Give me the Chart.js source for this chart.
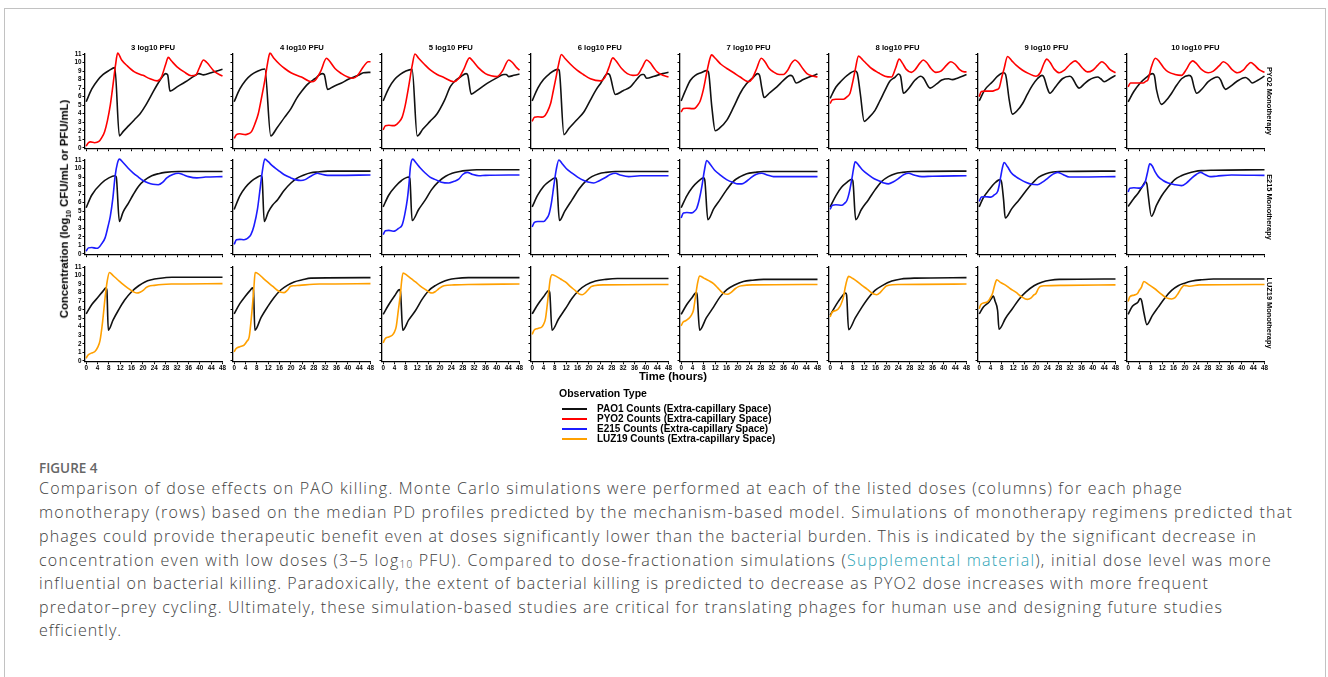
<!DOCTYPE html>
<html>
<head>
<meta charset="utf-8">
<script src="https://cdn.jsdelivr.net/npm/chart.js@4.4.1/dist/chart.umd.min.js"></script>
<style>
  body { margin: 0; background: #fff; width: 1328px; height: 677px; overflow: hidden; position: relative;
         font-family: "Liberation Sans", Arial, sans-serif; }
  .frame { position: absolute; left: 4px; top: 8px; width: 1320px; height: 700px;
           border: 1.5px solid #c2c2c2; border-bottom: none; }
  .panel { position: absolute; }
  .lbl { position: absolute; font-weight: bold; white-space: nowrap; color: #000; transform: translate(-50%, -50%); }
  .rot-l { transform: translate(-50%, -50%) rotate(-90deg); }
  .rot-r { transform: translate(-50%, -50%) rotate(90deg); }
  .leg { position: absolute; font-weight: bold; white-space: nowrap; color: #000; font-size: 10px; line-height: 10px; }
  .swatch { position: absolute; height: 2px; width: 25px; }
  #caption { position: absolute; left: 39px; top: 0; width: 1500px; height: 677px; }
  .cap { position: absolute; left: 0; display: block; white-space: pre; font-family: "Open Sans", sans-serif;
         font-weight: 300; font-size: 16px; line-height: 20px; color: #3e3e3e; }
  .cap sub { font-size: 10px; vertical-align: -2px; line-height: 0; }
  .cap a { color: #2aa3b5; text-decoration: none; }
  .fig { position: absolute; left: 0; top: 460px; white-space: pre; font-family: "Open Sans", sans-serif; font-weight: 600;
         font-size: 13.5px; line-height: 16px; color: #666; }
</style>
</head>
<body>
<div class="frame"></div>
<div id="caption"></div>
<script>
// ---- chart data (hours, log10 CFU/mL or PFU/mL) ----
const doses = ['3 log10 PFU', '4 log10 PFU', '5 log10 PFU', '6 log10 PFU',
               '7 log10 PFU', '8 log10 PFU', '9 log10 PFU', '10 log10 PFU'];
const rowLabels = ['PYO2 Monotherapy', 'E215 Monotherapy', 'LUZ19 Monotherapy'];
const hourTicks = [0, 4, 8, 12, 16, 20, 24, 28, 32, 36, 40, 44, 48];
const concTicks = [0, 1, 2, 3, 4, 5, 6, 7, 8, 9, 10, 11];
const legendLabels = ['PAO1 Counts (Extra-capillary Space)', 'PYO2 Counts (Extra-capillary Space)',
                      'E215 Counts (Extra-capillary Space)', 'LUZ19 Counts (Extra-capillary Space)'];

// PAO1 with PYO2, one curve per dose
const PAO1_PYO2 = [
  [[0,5.4],[2,6.9],[4,7.9],[6,8.6],[8,9.05],[10.1,9.4],[11.7,1.4],[13,1.9],[15,2.6],[17,3.3],[19,4.0],[21,5.0],[23,6.2],[25,7.4],[27,8.4],[28,8.7],[28.7,8.55],[29.5,6.65],[32,7.15],[35,7.75],[38,8.4],[39.7,8.7],[41.3,8.55],[44,8.8],[48,9.2]],
  [[0,5.4],[2,6.9],[4,7.9],[6,8.55],[8,8.95],[10.8,9.25],[12.9,1.4],[15,2.3],[17.8,3.6],[20,4.6],[22,5.8],[23.7,6.6],[26,7.5],[28.4,8.1],[31,8.7],[31.7,8.6],[32.9,6.85],[35,7.2],[37.8,7.6],[40,8.0],[43.7,8.5],[45.5,8.8],[48,8.85]],
  [[0,5.5],[2,7.0],[4,8.0],[6,8.6],[8,9.0],[10.2,9.2],[12,1.4],[14,2.2],[16.5,3.1],[19,4.0],[21.5,5.5],[23.7,7.2],[25.5,7.9],[27.2,8.3],[29.2,8.7],[29.8,8.5],[31,6.3],[33,6.7],[36.6,7.55],[40,8.2],[42.5,8.6],[43.3,8.6],[44.2,8.35],[46,8.5],[48,8.65]],
  [[0,5.5],[2,7.0],[4,8.0],[6,8.65],[9,9.2],[9.5,9.1],[11.2,1.55],[13,2.3],[15.5,3.2],[18.2,4.2],[20.5,5.6],[22.5,6.8],[24.1,7.55],[26.6,8.7],[27.3,8.55],[29.3,6.25],[32,6.7],[34.6,7.15],[36.5,7.9],[38.7,8.6],[39.3,8.6],[40.3,8.15],[43,8.4],[46,8.7],[48,8.85]],
  [[0,5.5],[1.5,6.7],[3.2,7.9],[5,8.5],[7,8.8],[9,9.05],[9.6,8.9],[10.8,4.8],[12,2.0],[13.5,2.3],[16.1,3.25],[18.5,4.8],[20.8,6.4],[23,7.5],[25.5,8.3],[26.9,8.7],[27.6,8.5],[28.4,7.0],[29.2,5.9],[31,6.4],[33.7,7.15],[36,7.9],[38.4,8.5],[39.2,8.4],[40.5,7.6],[43,8.0],[45.5,8.35],[48,8.65]],
  [[0,5.8],[2,7.1],[4.1,7.9],[6,8.5],[8.8,9.0],[9.5,8.8],[10.6,6.4],[12,3.1],[13.5,3.5],[15.8,4.4],[17.5,5.5],[19.4,6.8],[21,7.8],[22.9,8.3],[24.1,8.65],[24.8,8.4],[25.8,6.4],[27.5,6.9],[29.9,7.95],[31.9,8.4],[32.8,8.2],[35.2,7.0],[37.5,7.5],[39.3,7.95],[41.7,8.1],[43,8.0],[45,8.2],[48,8.6]],
  [[0,5.5],[2,6.8],[4.7,7.75],[6.5,8.4],[8.6,8.8],[9.3,8.6],[10.6,5.6],[11.7,3.95],[13.5,4.4],[15.3,5.2],[17,6.3],[18.8,7.35],[20.5,8.1],[22.1,8.5],[22.8,8.3],[24,7.0],[24.9,6.4],[27,7.2],[29.3,8.1],[31.9,8.4],[32.8,8.2],[34.3,7.3],[35.2,7.0],[37,7.5],[38.7,7.95],[41.7,8.3],[42.8,8.1],[44,7.75],[46,8.1],[48,8.5]],
  [[0,5.4],[2,6.6],[4.1,7.55],[6.2,8.2],[8.5,8.7],[9.2,8.5],[10,6.8],[11.7,5.1],[13.5,5.6],[15.3,6.4],[17,7.3],[18.8,8.1],[21.4,8.5],[22.3,8.3],[23.3,7.0],[24.1,6.4],[26,6.9],[28.2,7.75],[31.5,8.3],[32.5,8.0],[33.5,7.2],[34.3,6.85],[36,7.2],[38.1,7.75],[41.3,8.25],[42.5,8.0],[43.7,7.6],[45.5,7.9],[48,8.4]]
];
const PYO2 = [
  [[0,0.2],[0.8,0.6],[1.5,0.7],[3,0.6],[4.5,0.75],[5.5,1.2],[6.5,1.9],[7.5,3.2],[8.5,5.0],[9.5,7.5],[10.3,9.6],[11.1,11.1],[12.5,10.3],[14.5,9.6],[17,8.9],[20,8.5],[22.5,8.1],[25,7.85],[26.5,8.3],[28,9.8],[28.9,10.6],[30,10.2],[32,9.5],[34.5,8.9],[37,8.45],[38.5,8.5],[40,9.5],[41.3,10.3],[42.5,10.0],[45,9.0],[48,8.4]],
  [[0,1.1],[0.8,1.55],[2,1.65],[4,1.55],[5,1.65],[6.1,1.9],[7.3,2.8],[8.5,4.0],[9.6,5.8],[10.8,7.9],[11.8,10.0],[12.6,11.1],[14,10.5],[16,9.8],[17.8,9.3],[20,8.8],[23.7,8.3],[27.2,7.75],[28.5,7.9],[30.5,9.0],[32.5,10.5],[33.5,10.2],[35.5,9.3],[37.8,8.7],[40,8.3],[41.9,8.15],[43.5,8.5],[45.5,9.5],[47.2,10.1],[48,10.1]],
  [[0,2.1],[0.8,2.6],[2,2.65],[3.5,2.6],[4.3,2.65],[5.5,3.0],[6.7,3.6],[7.8,5.0],[9,7.2],[10.2,9.6],[11.2,11.0],[12.5,10.5],[14.5,9.8],[16.7,9.1],[19,8.6],[21.4,8.25],[24.9,7.75],[26.5,8.1],[28.5,9.3],[30.4,10.55],[31.5,10.2],[33.5,9.4],[36,8.7],[38,8.45],[40.1,8.35],[42,9.0],[44.2,10.3],[45.5,10.0],[47,9.4],[48,9.1]],
  [[0,3.1],[0.8,3.6],[2,3.65],[3.5,3.6],[4.1,3.65],[5.3,4.2],[6.5,5.2],[7.4,6.6],[8.2,7.9],[9.2,9.6],[10.3,10.95],[11.5,10.5],[13.5,9.8],[15.8,9.1],[18,8.6],[20.5,8.1],[24.1,7.85],[25.5,8.2],[27,9.4],[28.4,10.55],[29.5,10.2],[31.5,9.3],[33.5,8.7],[35.5,8.5],[37,8.55],[38.7,9.4],[40.3,10.3],[41.5,10.0],[43,9.3],[44,8.9],[46,8.5],[48,8.3]],
  [[0,4.2],[0.8,4.6],[2,4.65],[4,4.6],[4.9,4.65],[5.8,5.0],[6.7,5.5],[7.8,6.8],[9,8.8],[10,10.3],[10.7,10.9],[12,10.5],[14,9.8],[16.1,9.3],[18.5,8.8],[20.8,8.3],[23.7,7.75],[25,8.1],[26.6,9.3],[28.2,10.5],[29.5,10.1],[31,9.3],[32.5,8.9],[34.5,8.6],[36,8.6],[37.5,9.1],[38.8,9.9],[40.1,10.3],[41.3,10.0],[43,9.2],[44.3,8.7],[46,8.45],[48,8.3]],
  [[0,5.2],[0.8,5.65],[2,5.7],[4.7,5.7],[6,6.0],[7,6.4],[8,7.8],[8.8,9.1],[10,10.75],[11.5,10.3],[13,9.8],[14.6,9.3],[17,8.8],[19.3,8.4],[21.6,8.3],[23,9.3],[24.3,10.4],[25.5,9.9],[26.8,9.2],[28.6,8.85],[30,9.2],[31.5,9.9],[32.8,10.3],[34,10.0],[35.5,9.3],[37.2,8.85],[39,9.0],[41,9.7],[42.5,10.1],[44,9.8],[45.5,9.2],[47.2,8.9],[48,8.9]],
  [[0,6.0],[0.8,6.6],[2,6.65],[4.7,6.65],[6,6.8],[7,7.0],[8,8.3],[8.8,9.3],[10,10.7],[11.5,10.2],[13,9.7],[15.3,9.1],[17.5,8.7],[20,8.4],[21.5,8.8],[22.7,9.8],[23.8,10.4],[25,10.0],[26.5,9.2],[28.2,8.8],[30,9.1],[32,9.8],[33.8,10.2],[35,9.9],[36.5,9.3],[38.1,8.9],[40,9.1],[41.8,9.7],[43.2,10.1],[44.5,9.8],[46,9.2],[48,8.8]],
  [[0,7.15],[0.8,7.6],[2,7.6],[5.3,7.6],[6.2,7.8],[7,8.0],[8.2,9.5],[9.6,10.5],[11,10.1],[12.5,9.4],[14.1,8.9],[16.5,8.6],[18.8,8.5],[20.5,9.2],[21.7,9.9],[22.7,10.2],[24,9.9],[25.8,9.2],[28.2,8.8],[30,9.0],[32,9.6],[33.5,10.1],[35,9.8],[36.5,9.2],[38.5,8.8],[40.5,9.1],[42,9.7],[43.2,10.0],[44.5,9.7],[46,9.2],[48,8.85]]
];

// PAO1 with E215
const PAO1_E215 = [
  [[0,5.4],[2,6.9],[5.5,8.3],[8,8.9],[10.2,9.15],[10.6,9.0],[11.7,3.8],[13,4.9],[14.9,5.95],[16.5,6.9],[18.4,7.9],[20.5,8.6],[23.1,9.15],[25.5,9.4],[27.8,9.55],[32.5,9.65],[48,9.65]],
  [[0,5.2],[2,6.8],[4,7.8],[6,8.5],[8,8.95],[9.4,9.15],[9.8,9.0],[10.6,3.8],[12,4.9],[13.5,5.7],[15.3,6.35],[17.5,7.4],[20,8.3],[22,8.85],[24.6,9.25],[27,9.5],[29.3,9.6],[33,9.7],[48,9.7]],
  [[0,5.5],[2,6.9],[4.3,7.9],[6.5,8.6],[9,9.0],[9.4,8.8],[10.2,3.9],[12.5,5.2],[14.9,6.35],[17,7.5],[19.6,8.5],[22,9.1],[24.3,9.45],[27,9.65],[29,9.75],[33,9.85],[48,9.85]],
  [[0,5.5],[2,6.9],[4,7.9],[6,8.5],[8.2,8.9],[8.6,8.7],[9.6,3.9],[11.5,5.0],[14.1,6.35],[16.5,7.6],[18.8,8.5],[21,9.05],[23.5,9.4],[26,9.55],[29.3,9.65],[48,9.65]],
  [[0,5.4],[2,6.8],[4,7.8],[6,8.5],[7.9,8.9],[8.3,8.7],[9.4,4.0],[11.5,5.3],[13.7,6.35],[16,7.5],[18.4,8.5],[20.8,9.05],[23.1,9.4],[26,9.55],[29,9.65],[48,9.65]],
  [[0,5.5],[2,6.8],[4,7.8],[6,8.4],[7.6,8.75],[8,8.55],[9,4.0],[11,5.2],[13.5,6.35],[15.8,7.5],[18.2,8.5],[20.5,9.05],[22.9,9.4],[25.5,9.55],[28.8,9.65],[48,9.7]],
  [[0,5.5],[1.5,6.6],[3.5,7.5],[5.5,8.3],[7.4,8.7],[7.9,8.4],[8.6,6.35],[9.2,4.2],[11.5,5.3],[14.1,6.35],[16.5,7.4],[18.8,8.3],[21,9.0],[23.5,9.4],[26,9.6],[28.2,9.65],[48,9.7]],
  [[0,5.55],[2,6.5],[3.5,7.1],[5,7.9],[6.1,8.45],[6.6,8.2],[7,7.1],[8.2,4.4],[10,5.7],[11.7,6.75],[14,7.8],[16.4,8.7],[18.7,9.15],[21.1,9.45],[23.5,9.65],[25.8,9.75],[30,9.8],[48,9.85]]
];
const E215 = [
  [[0,0.3],[0.8,0.7],[2,0.75],[3.5,0.65],[4.3,0.7],[5.5,1.2],[6.7,1.9],[7.7,3.2],[8.5,4.4],[9.4,6.5],[10.2,9.1],[11,10.6],[11.7,11.1],[13,10.7],[14.9,10.0],[16.5,9.5],[18.4,9.0],[20,8.6],[21.9,8.3],[23.5,8.15],[25.4,8.1],[27,8.4],[28.4,8.9],[30.5,9.3],[32.5,9.45],[34,9.3],[36,9.05],[39,8.9],[42,9.0],[48,9.05]],
  [[0,1.1],[0.8,1.65],[2,1.7],[3.5,1.65],[4.1,1.7],[5,1.9],[5.9,2.25],[7,3.3],[8.2,5.2],[9.2,7.8],[10,9.85],[10.8,11.1],[12,10.8],[13.5,10.3],[15.3,9.85],[17.5,9.3],[20,8.9],[21.5,8.7],[23.5,8.6],[25,8.7],[27,9.1],[29.3,9.45],[30.5,9.35],[32.9,9.2],[36,9.2],[48,9.25]],
  [[0,2.25],[0.8,2.7],[2,2.75],[3.5,2.65],[4.3,2.7],[5.5,3.0],[6.7,3.4],[7.6,4.6],[8.5,6.35],[9.1,8.2],[9.6,10.2],[10.4,11.1],[11.5,10.7],[13,10.1],[14.9,9.45],[16.5,9.0],[18.4,8.7],[20.5,8.4],[23.1,8.3],[25,8.5],[26.6,8.75],[28,9.3],[29.6,9.55],[31.5,9.3],[33.7,9.15],[36,9.2],[48,9.25]],
  [[0,3.15],[0.8,3.7],[2,3.8],[4.1,3.8],[5,4.1],[5.9,4.6],[6.8,6.0],[7.6,7.9],[8.5,9.9],[9.4,11.0],[10.5,10.6],[12,10.0],[14.1,9.45],[16,9.0],[18.2,8.6],[20,8.4],[21.7,8.3],[23.5,8.55],[25.8,8.95],[27.5,9.3],[29.3,9.45],[31,9.25],[34,9.05],[38,9.15],[48,9.15]],
  [[0,4.2],[0.8,4.8],[2,4.85],[3.8,4.8],[4.7,5.0],[5.5,5.35],[6.4,6.4],[7.3,7.9],[8.2,9.8],[9,10.95],[10.2,10.5],[11.8,9.8],[13.7,9.25],[16,8.7],[18.4,8.35],[20,8.2],[21.4,8.2],[22.8,8.45],[24.3,8.85],[26.3,9.3],[28.4,9.45],[30.3,9.25],[32.5,9.05],[36,9.05],[48,9.05]],
  [[0,5.2],[0.8,5.7],[2,5.75],[4.1,5.7],[5,5.9],[5.9,6.25],[6.8,7.3],[7.6,8.7],[8.2,9.9],[8.8,10.8],[10,10.4],[11.5,9.8],[13.5,9.25],[15.5,8.8],[17.6,8.5],[19,8.3],[20.5,8.2],[22.3,8.45],[24.1,8.85],[26,9.3],[27.6,9.45],[29.5,9.25],[32.3,9.05],[36,9.1],[48,9.15]],
  [[0,6.15],[0.8,6.65],[2,6.7],[4.1,6.65],[5.3,6.9],[6.5,7.3],[7.1,8.1],[7.6,9.05],[8.2,10.1],[8.8,10.7],[10,10.2],[11.3,9.5],[12.9,9.05],[14.6,8.7],[16.4,8.4],[18.5,8.15],[20.5,8.1],[22.3,8.4],[24.1,8.85],[26,9.35],[27.6,9.55],[29.5,9.3],[31.7,9.0],[35,9.0],[48,9.05]],
  [[0,7.25],[0.6,7.7],[2,7.75],[4.1,7.7],[5,7.9],[5.9,8.3],[6.8,9.5],[7.6,10.55],[8.5,10.3],[9.5,9.6],[10.6,9.05],[12.3,8.6],[14.1,8.3],[16.5,8.1],[18.8,8.0],[20.5,8.3],[22.3,8.85],[24,9.3],[25.5,9.55],[27,9.3],[28.8,9.05],[31,9.1],[36.4,9.25],[48,9.2]]
];

// PAO1 with LUZ19
const PAO1_LUZ19 = [
  [[0,5.5],[2,6.6],[4.3,7.5],[6,8.2],[7,8.55],[7.3,8.3],[7.8,3.6],[9.5,4.8],[11.3,5.9],[13.5,7.1],[16,8.1],[18.5,8.8],[20.7,9.25],[23,9.5],[25.4,9.65],[30.2,9.8],[48,9.8]],
  [[0,5.5],[2,6.7],[4,7.6],[5.5,8.2],[6.5,8.55],[6.8,8.3],[7.3,3.6],[9.5,5.1],[11.7,6.3],[14,7.4],[16.4,8.3],[18.7,8.85],[21.1,9.25],[24,9.5],[27,9.7],[48,9.75]],
  [[0,5.45],[2,6.6],[4,7.6],[5.75,8.35],[6.1,8.1],[6.9,3.6],[9,4.8],[11.4,5.9],[13.7,7.2],[16.1,8.25],[18.5,8.85],[20.8,9.25],[23,9.5],[25.5,9.65],[30,9.75],[48,9.75]],
  [[0,5.5],[2,6.6],[4,7.5],[5.9,8.25],[6.2,8.0],[7,3.6],[9.3,4.9],[11.7,6.1],[14,7.3],[16.4,8.25],[19,8.9],[22.3,9.35],[26,9.55],[30,9.65],[48,9.65]],
  [[0,5.45],[2,6.6],[3.8,7.4],[5.3,8.0],[5.6,7.8],[6.5,3.6],[8.8,5.0],[11.4,6.3],[13.7,7.5],[16.1,8.35],[18.8,8.9],[21.9,9.3],[25,9.45],[29,9.55],[48,9.55]],
  [[0,5.35],[2,6.5],[3.8,7.4],[5.5,7.95],[5.8,7.7],[6.5,3.65],[8.8,5.0],[11.2,6.3],[13.5,7.4],[15.8,8.25],[18.5,8.85],[21.7,9.35],[25,9.6],[30,9.7],[48,9.75]],
  [[0,5.5],[1.5,6.3],[3.5,6.9],[4.5,7.4],[5,7.6],[5.6,7.0],[6.5,5.9],[7,3.7],[9.3,5.0],[11.7,6.1],[14,7.2],[16.4,8.05],[19.3,8.8],[22.3,9.25],[25,9.45],[28.2,9.55],[48,9.6]],
  [[0,5.45],[1.5,6.4],[3.5,6.9],[4.2,7.3],[4.7,7.1],[5.6,5.55],[6.6,4.25],[8.5,5.3],[10.6,6.3],[13,7.4],[15.3,8.25],[17.6,8.8],[19.9,9.1],[22.5,9.35],[25.8,9.5],[30,9.6],[48,9.6]]
];
const LUZ19 = [
  [[0,0.3],[0.6,0.65],[1.8,0.9],[3.1,1.1],[4.1,1.6],[4.9,2.4],[5.8,4.6],[6.7,7.5],[7.4,9.3],[8.2,10.35],[9.5,10.0],[11.3,9.45],[13,8.95],[14.8,8.5],[16.3,8.15],[17.8,7.95],[19,8.05],[20.2,8.3],[21.2,8.6],[22,8.75],[24,8.85],[26.7,8.95],[30,9.0],[48,9.05]],
  [[0,1.05],[0.7,1.45],[2,1.65],[3.5,1.85],[4.5,2.3],[5.3,2.8],[5.9,4.5],[6.5,6.7],[7,8.8],[7.4,10.35],[8.5,10.2],[10,9.75],[11.7,9.25],[13.5,8.75],[15.3,8.25],[16.5,8.05],[17.6,8.0],[18.8,8.3],[19.9,8.75],[21,8.8],[23,8.85],[30,9.0],[48,9.05]],
  [[0,2.1],[0.7,2.6],[2,2.8],[3.2,3.0],[4.0,3.4],[4.6,4.0],[5.3,5.8],[6.1,7.9],[6.5,9.3],[7.0,10.3],[8.5,10.0],[10,9.6],[11.4,9.25],[13,8.8],[14.9,8.35],[16.2,8.05],[17.3,7.95],[18.5,8.15],[19.6,8.45],[21.4,8.8],[25,8.9],[30,8.95],[48,9.0]],
  [[0,3.1],[0.7,3.6],[2,3.8],[3.5,4.0],[4.2,4.4],[4.7,4.95],[5.3,6.5],[5.9,8.3],[6.4,9.6],[7,10.1],[8.5,9.9],[10,9.6],[11.7,9.25],[13.5,8.7],[15.3,8.2],[16.5,7.85],[17.6,7.75],[18.8,8.0],[19.9,8.4],[20.8,8.7],[21.7,8.8],[25,8.9],[48,8.95]],
  [[0,4.1],[0.7,4.55],[1.6,4.7],[2.6,4.95],[3.5,5.3],[4.3,5.9],[5.0,7.4],[5.75,9.05],[6.5,9.95],[8,9.7],[9.7,9.4],[11.4,9.05],[12.9,8.55],[14.3,8.05],[15.3,7.85],[16.3,7.8],[17.5,8.0],[19,8.45],[20.2,8.7],[21.4,8.8],[25,8.9],[48,8.95]],
  [[0,5.15],[0.7,5.7],[2,5.9],[2.9,6.1],[3.8,6.6],[4.7,7.5],[5.3,8.6],[5.9,9.45],[6.5,9.9],[8,9.65],[9.5,9.3],[11.2,8.85],[13,8.4],[14.7,7.95],[15.6,7.8],[16.4,7.75],[17.6,8.0],[18.8,8.45],[19.7,8.75],[20.5,8.85],[24,8.95],[48,9.0]],
  [[0,6.1],[0.6,6.6],[1.8,6.8],[2.9,6.9],[3.8,7.3],[4.7,7.9],[5.5,8.9],[6.2,9.5],[7.5,9.2],[9.4,8.85],[11,8.45],[12.9,8.05],[15,7.5],[17,7.2],[18.2,7.35],[19.2,7.7],[20,7.9],[20.9,8.5],[21.7,8.75],[23,8.8],[30,8.85],[48,8.9]],
  [[0,6.95],[0.6,7.5],[2,7.7],[3.3,7.9],[4.0,8.3],[4.7,8.65],[5.5,9.3],[7,9.0],[9.4,8.45],[11.2,7.95],[12.9,7.5],[14.2,7.3],[15.3,7.25],[16.5,7.4],[17.6,7.9],[18.7,8.5],[19.7,8.85],[20.7,8.8],[21.7,8.75],[25,8.9],[48,8.95]]
];

const seriesColors = ['#111111', '#ff0000', '#1c1cff', '#ffa000'];
const rowSeries = [[PAO1_PYO2, PYO2, 1], [PAO1_E215, E215, 2], [PAO1_LUZ19, LUZ19, 3]];

// ---- layout ----
const colLeft = [84.5, 233.4, 382.3, 531.2, 680.1, 829, 977.9, 1126.8];
const rowTop = [54, 160.3, 266.7];
const YW = 20, PT = 6, PW = 137.5, PH = 94.7, XH = 11, CW = 164, CH = 112;
const tickFont = { family: '"Liberation Sans", Arial, sans-serif', size: 6.3, weight: 'bold' };

function addLabel(text, x, y, size, cls) {
  const d = document.createElement('div');
  d.className = 'lbl' + (cls ? ' ' + cls : '');
  d.style.left = x + 'px';
  d.style.top = y + 'px';
  d.style.fontSize = size + 'px';
  d.innerHTML = text;
  document.body.appendChild(d);
  return d;
}

function makePanel(r, c) {
  const left = Math.round(colLeft[c]) - YW;
  const top = Math.round(rowTop[r]) - PT;
  const wrap = document.createElement('div');
  wrap.className = 'panel';
  wrap.style.left = left + 'px';
  wrap.style.top = top + 'px';
  const cv = document.createElement('canvas');
  cv.width = CW; cv.height = CH;
  cv.style.width = CW + 'px'; cv.style.height = CH + 'px';
  wrap.appendChild(cv);
  document.body.appendChild(wrap);

  const [bact, phage, ci] = rowSeries[r];
  const axisGrid = { display: true, drawOnChartArea: false, drawTicks: true, tickLength: 2.5, color: '#000', lineWidth: 1 };
  const axisBorder = { display: true, color: '#000', width: 1.3 };

  new Chart(cv, {
    type: 'line',
    data: {
      datasets: [
        { data: phage[c].map(p => ({ x: p[0], y: p[1] })), borderColor: seriesColors[ci] },
        { data: bact[c].map(p => ({ x: p[0], y: p[1] })), borderColor: seriesColors[0] }
      ]
    },
    options: {
      responsive: false,
      animation: false,
      events: [],
      layout: { padding: { top: PT, left: 0, right: CW - YW - PW, bottom: CH - PT - PH - XH } },
      plugins: { legend: { display: false }, tooltip: { enabled: false } },
      elements: {
        line: { borderWidth: 1.6, cubicInterpolationMode: 'monotone', fill: false },
        point: { radius: 0 }
      },
      datasets: { line: { clip: 6 } },
      scales: {
        x: {
          type: 'linear', min: -0.4, max: 48,
          afterBuildTicks: a => { a.ticks = hourTicks.map(v => ({ value: v })); },
          afterFit: s => { s.height = XH; },
          ticks: { display: r === 2, font: tickFont, color: '#000', padding: 0, autoSkip: false, maxRotation: 0 },
          grid: axisGrid, border: axisBorder
        },
        y: {
          type: 'linear', min: -0.1, max: 11,
          afterBuildTicks: a => { a.ticks = concTicks.map(v => ({ value: v })); },
          afterFit: s => { s.width = YW; },
          ticks: { display: c === 0, font: tickFont, color: '#000', padding: 1, autoSkip: false },
          grid: axisGrid, border: axisBorder
        }
      }
    }
  });
}

for (let r = 0; r < 3; r++) for (let c = 0; c < 8; c++) makePanel(r, c);

// column titles and row labels
doses.forEach((d, c) => addLabel(d, colLeft[c] + 68.5, 47.3, 7.7));
[101, 207, 313].forEach((y, r) => addLabel(rowLabels[r], 1269, y, 7.4, 'rot-r'));
addLabel('Concentration (log<sub style="font-size:7px">10</sub> CFU/mL or PFU/mL)', 65, 209, 11.3, 'rot-l');
addLabel('Time (hours)', 673, 375.5, 11.3);

// legend
const obs = document.createElement('div');
obs.className = 'leg';
obs.style.left = '559px'; obs.style.top = '388px'; obs.style.fontSize = '10.5px';
obs.textContent = 'Observation Type';
document.body.appendChild(obs);
[409, 419.3, 429.3, 439.3].forEach((y, i) => {
  const sw = document.createElement('div');
  sw.className = 'swatch';
  sw.style.left = '562px'; sw.style.top = (y - 1) + 'px'; sw.style.background = seriesColors[i];
  document.body.appendChild(sw);
  const t = document.createElement('div');
  t.className = 'leg';
  t.style.left = '597px'; t.style.top = (y - 5.5) + 'px';
  t.textContent = legendLabels[i];
  document.body.appendChild(t);
});

// caption
const capBox = document.getElementById('caption');
const fig = document.createElement('div');
fig.className = 'fig';
fig.textContent = 'FIGURE 4';
capBox.appendChild(fig);

const captionLines = [
  'Comparison of dose effects on PAO killing. Monte Carlo simulations were performed at each of the listed doses (columns) for each phage',
  'monotherapy (rows) based on the median PD profiles predicted by the mechanism-based model. Simulations of monotherapy regimens predicted that',
  'phages could provide therapeutic benefit even at doses significantly lower than the bacterial burden. This is indicated by the significant decrease in',
  'concentration even with low doses (3–5 log<sub>10</sub> PFU). Compared to dose-fractionation simulations (<a>Supplemental material</a>), initial dose level was more',
  'influential on bacterial killing. Paradoxically, the extent of bacterial killing is predicted to decrease as PYO2 dose increases with more frequent',
  'predator–prey cycling. Ultimately, these simulation-based studies are critical for translating phages for human use and designing future studies',
  'efficiently.'
];
const captionEnds = [1183, 1293, 1257, 1272, 1209, 1223, 122];
const captionMid = [490, 514, 537.7, 561.7, 585, 608.3, 631.7];
const capDivs = captionLines.map((txt, i) => {
  const d = document.createElement('span');
  d.className = 'cap';
  d.style.top = (captionMid[i] - 11.8) + 'px';
  d.innerHTML = txt;
  capBox.appendChild(d);
  return d;
});
function fitCaption() {
  capDivs.forEach((d, i) => {
    d.style.letterSpacing = '0px';
    const w = d.getBoundingClientRect().width;
    const n = d.textContent.length;
    d.style.letterSpacing = ((captionEnds[i] - 39 - w) / n) + 'px';
  });
}
fitCaption();
if (document.fonts) document.fonts.ready.then(fitCaption);
</script>
</body>
</html>
